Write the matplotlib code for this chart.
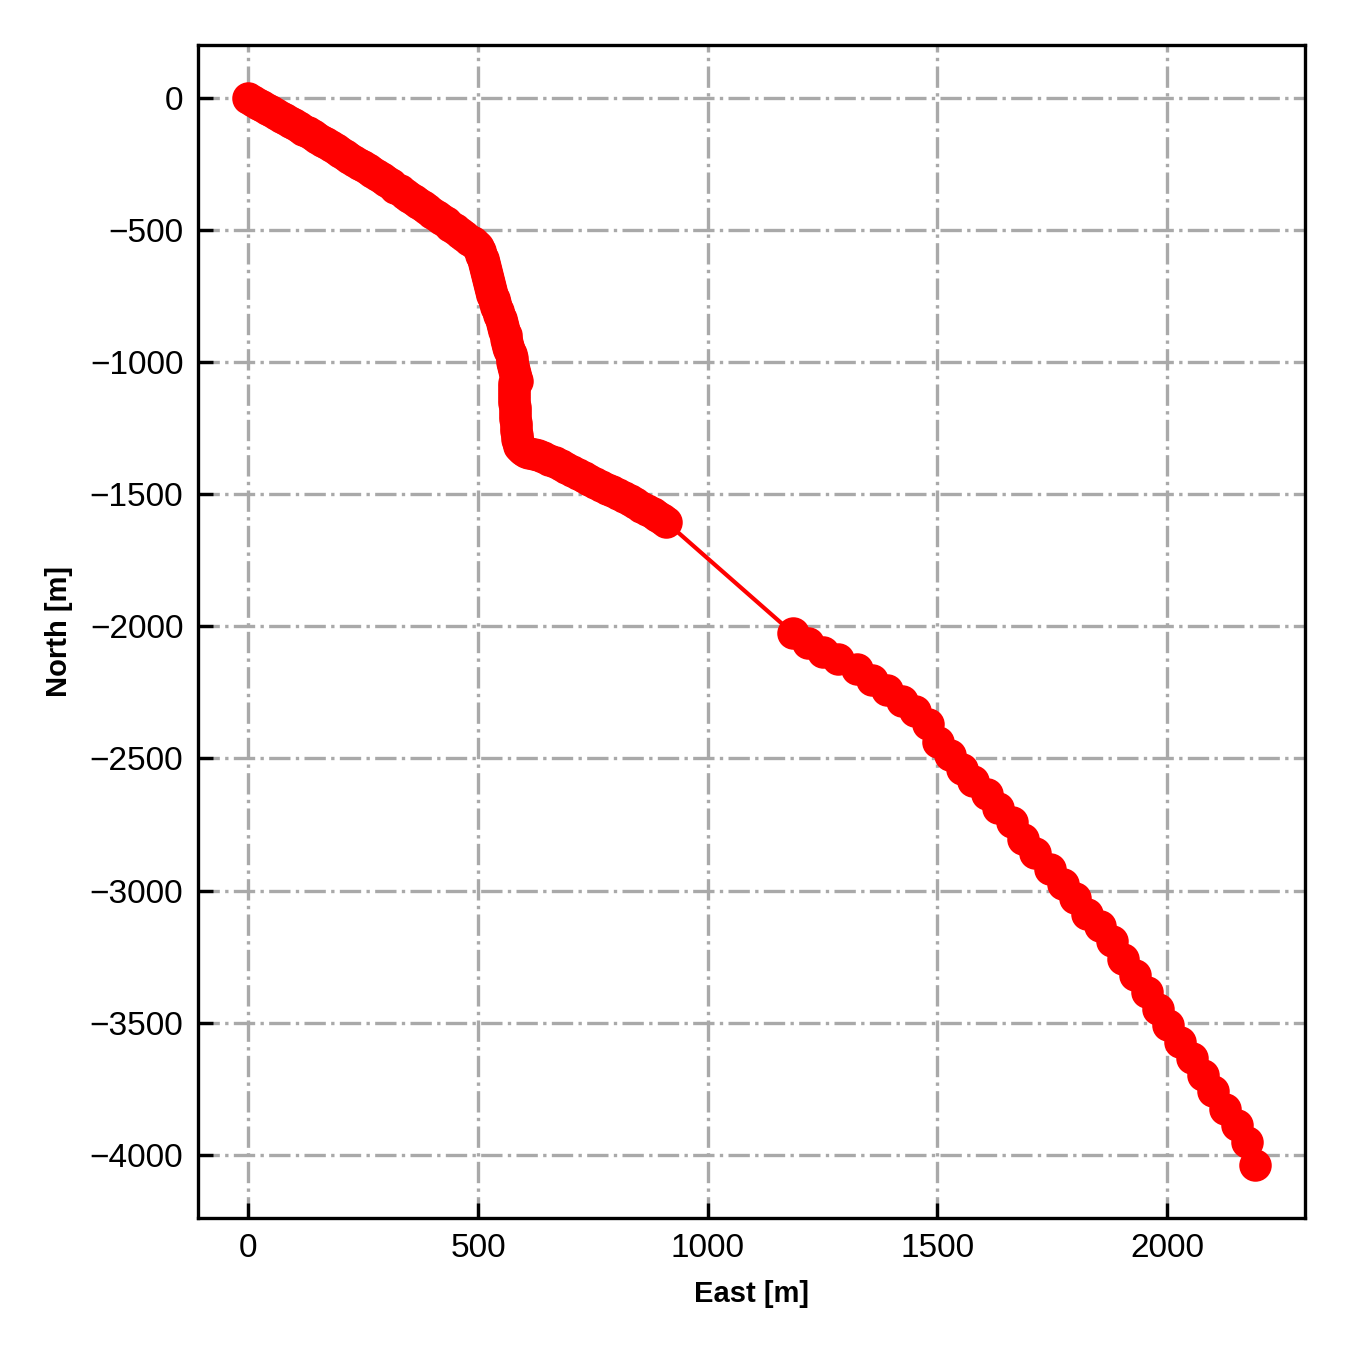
import numpy as np
import matplotlib.pyplot as plt

plt.rcParams['font.family'] = ['Liberation Sans', 'DejaVu Sans']

# well path: dense survey down to ~1600 m south, sparse below
east_upper = [0, 10, 20, 30, 40, 50, 60, 70, 80, 90, 100, 110, 120, 130, 140, 150,
              160, 170, 180, 190, 200, 210, 220, 230, 240, 250, 260, 270, 280, 290,
              300, 310, 320, 330, 340, 350, 360, 370, 380, 390, 400, 410, 420, 430,
              440, 450, 460, 470, 480, 488, 495,
              500, 505, 507, 510, 512, 515, 517, 520, 522, 524, 527, 529, 531, 534,
              537, 540, 543, 546, 549, 552, 554, 557, 560, 562, 564, 566, 568, 571,
              573, 575, 577, 579, 581, 583, 584,
              578, 578, 578, 578, 579, 579, 580, 580, 581, 581, 582, 582, 583, 584,
              585, 587, 589, 593, 597, 604, 612, 621,
              630, 642, 655, 667, 680, 692, 705, 717, 730, 742, 755, 767, 780, 792,
              805, 817, 830, 842, 855, 867, 880, 890, 900, 910]
north_upper = [0, -10, -20, -30, -40, -50, -60, -70, -80, -89, -99, -109, -119, -129,
               -139, -149, -160, -170, -181, -192, -203, -214, -225, -236, -247, -258,
               -269, -280, -292, -303, -315, -326, -338, -349, -361, -373, -385, -397,
               -409, -421, -434, -446, -458, -470, -483, -496, -509, -522, -535,
               -546, -556,
               -565, -580, -595, -610, -625, -640, -655, -670, -685, -700, -715,
               -730, -745, -760, -775, -790, -805, -820, -835, -850, -865, -880,
               -895, -910, -925, -940, -955, -970, -985, -1000, -1015, -1030, -1045,
               -1060, -1070,
               -1080, -1095, -1110, -1125, -1140, -1155, -1170, -1185, -1200, -1215,
               -1230, -1245, -1260, -1275, -1290, -1303, -1315, -1325, -1332, -1338,
               -1343, -1347,
               -1352, -1360, -1369, -1378, -1388, -1399, -1410, -1421, -1433, -1444,
               -1456, -1467, -1478, -1489, -1500, -1511, -1522, -1534, -1546, -1558,
               -1570, -1581, -1592, -1605]

east_lower = [1185, 1219, 1251, 1284, 1325, 1358, 1391, 1423, 1452, 1480, 1502,
              1528, 1554, 1578, 1608, 1632, 1663, 1687, 1712, 1745, 1774, 1800,
              1826, 1854, 1880, 1904, 1930, 1957, 1980, 2002, 2028, 2054, 2078,
              2100, 2126, 2152, 2174, 2191]
north_lower = [-2025, -2064, -2095, -2125, -2163, -2201, -2239, -2284, -2322,
               -2371, -2436, -2485, -2538, -2587, -2636, -2689, -2739, -2803,
               -2858, -2920, -2977, -3030, -3087, -3136, -3193, -3258, -3318,
               -3383, -3447, -3508, -3572, -3636, -3697, -3761, -3826, -3886,
               -3951, -4038]

east = np.array(east_upper + east_lower)
north = np.array(north_upper + north_lower)

fig = plt.figure(figsize=(4.5, 4.5), dpi=300)
ax = fig.add_axes([0.1467, 0.0978, 0.82, 0.8689])

ax.plot(east, north, color='r', lw=1, marker='o', ms=7.3, mew=0.5, zorder=3)

ax.grid(True, color='darkgray', lw=0.8, linestyle='-.')
ax.set_axisbelow(True)
ax.tick_params(direction='in', labelsize=8, length=3.5, width=0.8)
for s in ax.spines.values():
    s.set_linewidth(0.8)

ax.set_xlabel('East [m]', fontsize=7, fontweight='bold')
ax.set_ylabel('North [m]', fontsize=7, fontweight='bold')

fig.savefig('out.png', dpi=300)
